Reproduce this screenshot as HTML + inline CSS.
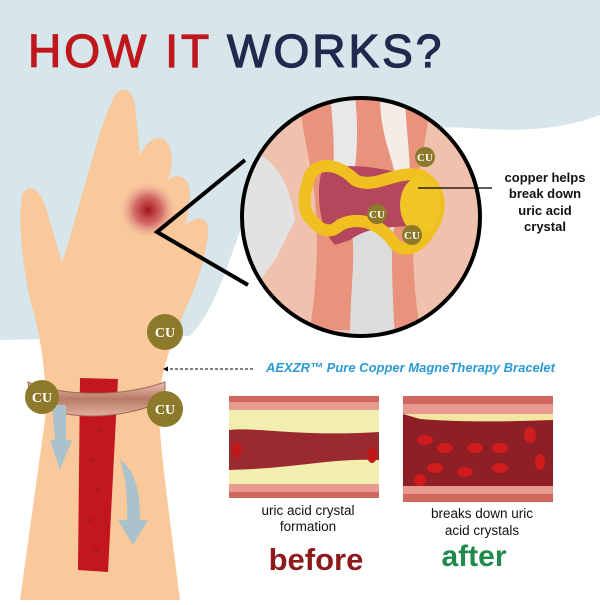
<!DOCTYPE html>
<html><head><style>
body{margin:0;width:600px;height:600px;overflow:hidden;background:#fff;font-family:"Liberation Sans",sans-serif}
</style></head><body>
<svg width="600" height="600" viewBox="0 0 600 600" xmlns="http://www.w3.org/2000/svg">
<defs>
<radialGradient id="sp"><stop offset="0" stop-color="#a3141a"/><stop offset="0.5" stop-color="#c9545a" stop-opacity="0.8"/><stop offset="1" stop-color="#e8a8a0" stop-opacity="0"/></radialGradient>
<linearGradient id="br" x1="0" y1="0" x2="0" y2="1"><stop offset="0" stop-color="#e8c0b0"/><stop offset="0.5" stop-color="#b97a66"/><stop offset="1" stop-color="#e0b0a0"/></linearGradient>
<clipPath id="cc"><circle cx="361" cy="217" r="119"/></clipPath>
</defs>
<path d="M0,0H600V115C560,130 520,132 470,128C390,124 300,140 262,185C235,225 225,300 190,336L0,340Z" fill="#d6e6ea"/>
<text x="28" y="67" font-size="46" letter-spacing="3" fill="#c0171d" stroke="#c0171d" stroke-width="1.2">HOW IT <tspan fill="#1f2a4e" stroke="#1f2a4e">WORKS?</tspan></text>
<!-- hand -->
<path d="M20,600 L45,420 C48,380 40,330 30,300 C22,260 18,220 22,195 C30,180 42,190 48,215 L62,262 C70,240 80,200 92,160 C100,130 108,110 115,95 C122,85 133,90 135,105 L140,155 C148,140 156,135 165,140 C175,150 172,170 168,180 C178,172 190,176 190,195 L186,225 C196,215 210,215 208,235 C204,265 195,290 185,310 C172,340 162,370 158,400 C160,450 170,520 180,600 Z" fill="#f9c89b"/>
<circle cx="148" cy="210" r="28" fill="url(#sp)"/>
<path d="M245,160 L157,232 L248,285" fill="none" stroke="#000" stroke-width="4"/>
<!-- joint circle -->
<g clip-path="url(#cc)">
<rect x="230" y="95" width="260" height="250" fill="#f0c2ae"/>
<path d="M300,95 C300,150 330,190 310,330 L420,330 C400,200 430,150 430,95 Z" fill="#e9937c"/>
<path d="M330,95 L355,95 C360,140 355,170 350,210 L330,210 C335,170 335,140 330,95Z" fill="#e8e8e8"/>
<path d="M240,150 C270,150 290,180 295,220 L275,260 C260,280 245,300 240,330 L230,330 L230,150Z" fill="#e2e2e2"/>
<path d="M345,220 C360,230 350,280 350,340 L395,340 C392,280 390,240 395,225 Z" fill="#dcdcdc"/>
<path d="M380,95 C380,140 395,160 395,180 L410,180 C410,150 405,120 405,95Z" fill="#f5ece8"/>
<path d="M322,170 C350,162 380,168 410,175 L420,225 C395,228 370,225 350,240 L335,245 C320,230 315,195 322,170Z" fill="#b5475d"/>
<path d="M310,175 C320,160 340,165 355,180 C375,190 395,170 420,175 C440,185 445,210 430,230 C420,250 400,255 392,240 C380,225 360,215 340,225 C330,235 320,230 312,220 C300,210 305,190 310,175Z" fill="none" stroke="#f0c020" stroke-width="12"/>
<ellipse cx="420" cy="205" rx="20" ry="28" fill="#f0c626"/>
</g>
<circle cx="361" cy="217" r="119" fill="none" stroke="#000" stroke-width="4"/>
<g font-family="Liberation Serif,serif" font-weight="bold" font-size="11" fill="#fff" text-anchor="middle">
<circle cx="425" cy="157" r="10" fill="#8c7a2a"/><text x="425" y="161">CU</text>
<circle cx="377" cy="214" r="10" fill="#8c7a2a"/><text x="377" y="218">CU</text>
<circle cx="412" cy="235" r="10" fill="#8c7a2a"/><text x="412" y="239">CU</text>
</g>
<line x1="418" y1="188" x2="492" y2="188" stroke="#000" stroke-width="1.2"/>
<g font-size="13" font-weight="bold" fill="#111" text-anchor="middle">
<text x="545" y="182">copper helps</text>
<text x="545" y="198">break down</text>
<text x="545" y="215">uric acid</text>
<text x="545" y="231">crystal</text>
</g>
<!-- vessel & bracelet -->
<path d="M80,378 L118,379 L108,572 L78,570 Z" fill="#c3161e"/>
<g fill="#9a1a1f" opacity="0.5"><circle cx="95" cy="400" r="3"/><circle cx="100" cy="430" r="3"/><circle cx="92" cy="460" r="3"/><circle cx="98" cy="490" r="3"/><circle cx="90" cy="520" r="3"/><circle cx="96" cy="550" r="3"/></g>
<path d="M28,382 C60,396 120,398 165,382 L165,400 C120,422 60,420 30,402Z" fill="url(#br)" stroke="#a06a5a"/>
<path d="M120,460 C135,470 140,490 140,520 L148,520 L133,545 L118,520 L127,520 C128,495 125,475 120,460Z" fill="#a9c2cc"/>
<path d="M52,405 L55,440 L50,440 L60,470 L72,440 L66,440 L66,405Z" fill="#a9c2cc"/>
<g font-family="Liberation Serif,serif" font-weight="bold" font-size="14" fill="#fff" text-anchor="middle">
<circle cx="165" cy="332" r="18" fill="#8c7a2a"/><text x="165" y="337">CU</text>
<circle cx="42" cy="397" r="17" fill="#8c7a2a"/><text x="42" y="402">CU</text>
<circle cx="165" cy="409" r="18" fill="#8c7a2a"/><text x="165" y="414">CU</text>
</g>
<line x1="165" y1="369" x2="253" y2="369" stroke="#000" stroke-dasharray="3,2"/>
<path d="M163,369 l5,-2.5 v5z"/>
<text x="266" y="372" font-size="13" font-weight="bold" font-style="italic" fill="#2a9ad6">AEXZR™ Pure Copper MagneTherapy Bracelet</text>
<!-- before -->
<rect x="229" y="396" width="150" height="102" fill="#e89a90"/>
<rect x="229" y="410" width="150" height="74" fill="#f2eeb0"/>
<path d="M229,430 C260,427 300,437 379,432 L379,460 C330,458 300,468 229,470Z" fill="#9a2a30"/>
<ellipse cx="237" cy="450" rx="5" ry="8" fill="#c01818"/><ellipse cx="372" cy="455" rx="5" ry="8" fill="#c01818"/>
<rect x="229" y="396" width="150" height="6" fill="#d06860"/><rect x="229" y="492" width="150" height="6" fill="#d06860"/>
<!-- after -->
<rect x="403" y="396" width="150" height="106" fill="#e89a90"/>
<rect x="403" y="414" width="150" height="72" fill="#8e1f26"/>
<path d="M403,414 H553 V420 C500,422 460,422 420,419Z" fill="#f2e6a0"/>
<g fill="#d01c1c"><ellipse cx="425" cy="440" rx="8" ry="5"/><ellipse cx="445" cy="448" rx="8" ry="5"/><ellipse cx="475" cy="448" rx="8" ry="5"/><ellipse cx="500" cy="448" rx="8" ry="5"/><ellipse cx="530" cy="435" rx="6" ry="8"/><ellipse cx="435" cy="468" rx="8" ry="5"/><ellipse cx="465" cy="472" rx="8" ry="5"/><ellipse cx="500" cy="468" rx="8" ry="5"/><ellipse cx="540" cy="462" rx="5" ry="8"/><ellipse cx="420" cy="480" rx="6" ry="6"/></g>
<rect x="403" y="396" width="150" height="8" fill="#d06860"/><rect x="403" y="494" width="150" height="8" fill="#d06860"/>
<g font-size="13.5" fill="#111" text-anchor="middle">
<text x="308" y="515">uric acid crystal</text><text x="308" y="531">formation</text>
<text x="482" y="518">breaks down uric</text><text x="482" y="535">acid crystals</text>
</g>
<text x="316" y="570" font-size="31" font-weight="bold" fill="#8e1a1c" text-anchor="middle">before</text>
<text x="474" y="566" font-size="30" font-weight="bold" fill="#1f8a4c" text-anchor="middle">after</text>
</svg>
</body></html>
